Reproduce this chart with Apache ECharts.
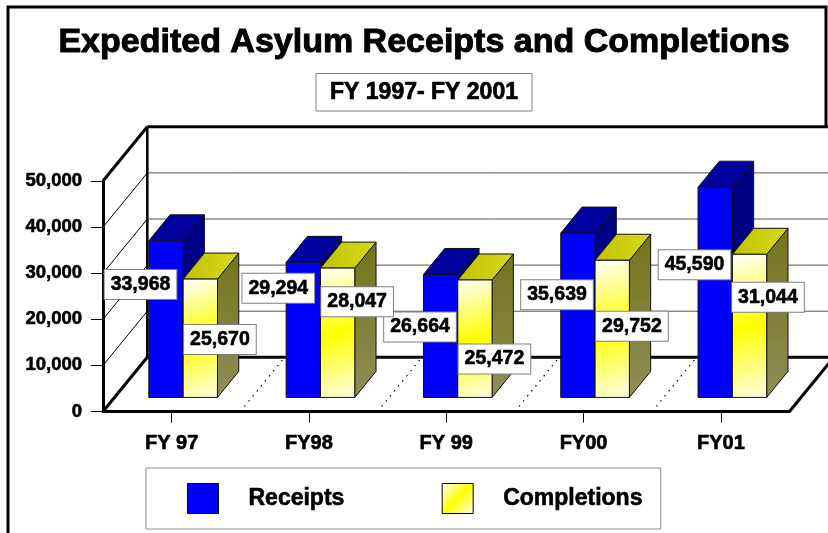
<!DOCTYPE html>
<html>
<head>
<meta charset="utf-8">
<title>Expedited Asylum Receipts and Completions</title>
<script src="https://cdn.jsdelivr.net/npm/echarts@6/dist/echarts.min.js"></script>
<style>
  html, body { margin: 0; padding: 0; background: #fff; }
  #chart { width: 828px; height: 533px; }
</style>
</head>
<body>
<div id="chart"></div>
<script>
// Fiscal years and yearly counts
const categories = ['FY 97', 'FY98', 'FY 99', 'FY00', 'FY01'];
const receipts = [33968, 29294, 26664, 35639, 45590];
const completions = [25670, 28047, 25472, 29752, 31044];
const yTicks = [0, 10000, 20000, 30000, 40000, 50000];

const FONT = '"Liberation Sans", Arial, Helvetica, sans-serif';
// a hairline outline makes the bold type a touch heavier
const INK = { textBorderColor: '#000', textBorderWidth: 0.6 };

// Oblique projection of the box: offset from the front plane to the back wall (px)
const DEPTH = [44.3, -54.2];
// Bars sit between these fractions of the floor depth
const BAR_NEAR = 0.26;
const BAR_FAR = 0.74;
// Each bar takes this share of a category band
const BAR_SHARE = 0.25;

// Hand placement of the value boxes, relative to the top-centre of each bar front
const receiptLabelDx = [-25.5, -25, -20.6, -20.9, -20.7];
const receiptLabelDy = [43.7, 25.9, 52.5, 61.6, 77.5];
const completionLabelDx = [19.6, 19.5, 19.5, 19.7, 18.4];
const completionLabelDy = [60.4, 33.6, 79, 66.1, 43];

const fmt = v => v.toLocaleString('en-US');

const blueFaces = {
  front: '#0000ff',
  top: '#00009e',
  side: '#000084'
};
const yellowFaces = {
  front: {
    type: 'linear', x: 0, y: 0, x2: 1, y2: 1,
    colorStops: [
      { offset: 0, color: '#ffffff' },
      { offset: 0.5, color: '#ffff00' },
      { offset: 1, color: '#ffffe6' }
    ]
  },
  top: {
    type: 'linear', x: 0, y: 0, x2: 1, y2: 0,
    colorStops: [
      { offset: 0, color: '#c2c200' },
      { offset: 1, color: '#d8d820' }
    ]
  },
  side: {
    type: 'linear', x: 0, y: 0, x2: 0, y2: 1,
    colorStops: [
      { offset: 0, color: '#74741c' },
      { offset: 1, color: '#8e8e58' }
    ]
  }
};

function barRenderer(side, faces, labelDx, labelDy, order) {
  return function (params, api) {
    const i = api.value(0);
    const v = api.value(1);
    const base = api.coord([i, 0]);
    const top = api.coord([i, v]);
    const band = api.size([1, 0])[0];
    const w = band * BAR_SHARE;
    const ox = DEPTH[0] * BAR_NEAR, oy = DEPTH[1] * BAR_NEAR;
    const dx = DEPTH[0] * (BAR_FAR - BAR_NEAR), dy = DEPTH[1] * (BAR_FAR - BAR_NEAR);
    const x0 = base[0] + ox + (side === 0 ? -w : 0);
    const x1 = x0 + w;
    const yb = base[1] + oy;
    const yt = top[1] + oy;
    const edge = { stroke: '#111', lineWidth: 1 };
    return {
      type: 'group',
      children: [
        {
          type: 'polygon', z2: order,
          shape: { points: [[x1, yt], [x1 + dx, yt + dy], [x1 + dx, yb + dy], [x1, yb]] },
          style: Object.assign({ fill: faces.side }, edge)
        },
        {
          type: 'polygon', z2: order,
          shape: { points: [[x0, yt], [x0 + dx, yt + dy], [x1 + dx, yt + dy], [x1, yt]] },
          style: Object.assign({ fill: faces.top }, edge)
        },
        {
          type: 'rect', z2: order,
          shape: { x: x0, y: yt, width: w, height: yb - yt },
          style: Object.assign({ fill: faces.front }, edge)
        },
        {
          type: 'text', z2: 100,
          style: {
            text: fmt(v),
            x: x0 + w / 2 + labelDx[i],
            y: yt + labelDy[i],
            align: 'center',
            verticalAlign: 'middle',
            font: 'bold 19.5px ' + FONT,
            fill: '#000',
            stroke: '#000',
            lineWidth: 0.6,
            backgroundColor: '#fff',
            borderColor: '#808080',
            borderWidth: 1,
            padding: [5, 6, 4, 6]
          }
        }
      ]
    };
  };
}

// Walls and floor of the box, built from the axis scales
function frameRenderer(params, api) {
  const cs = params.coordSys;
  const L = cs.x, R = cs.x + cs.width;
  const band = api.size([1, 0])[0];
  const [Dx, Dy] = DEPTH;
  const yOf = v => api.coord([0, v])[1];
  const yMin = yTicks[0], yMax = yTicks[yTicks.length - 1];
  const y0 = yOf(yMin), yTop = yOf(yMax);
  const kids = [];
  const line = (x1, y1, x2, y2, style) => kids.push({
    type: 'line', shape: { x1, y1, x2, y2 }, style: Object.assign({ stroke: '#000' }, style)
  });
  // back wall gridlines and side wall diagonals
  yTicks.forEach(v => {
    if (v === yMin || v === yMax) return;
    const y = yOf(v);
    line(L + Dx, y + Dy, R + Dx + 2, y + Dy, { stroke: '#555', lineWidth: 1 });
    line(L, y, L + Dx, y + Dy, { lineWidth: 1 });
  });
  // floor dividers between categories
  for (let k = 1; k < categories.length; k++) {
    const x = L + k * band;
    line(x, y0, x + Dx, y0 + Dy, { lineWidth: 1.2, lineDash: [1.5, 5] });
  }
  // heavy outline of the box
  const heavy = { lineWidth: 3 };
  line(L + Dx, yTop + Dy, R + Dx + 2, yTop + Dy, heavy);
  line(L + Dx, y0 + Dy, R + Dx + 2, y0 + Dy, heavy);
  line(L + Dx, yTop + Dy, L + Dx, y0 + Dy, { lineWidth: 2.5 });
  line(L, yTop, L + Dx, yTop + Dy, heavy);
  line(L, y0, L + Dx, y0 + Dy, heavy);
  line(R, y0, R + Dx, y0 + Dy, heavy);
  return { type: 'group', children: kids };
}

const chart = echarts.init(document.getElementById('chart'), null, { renderer: 'canvas' });

chart.setOption({
  backgroundColor: '#fff',
  animation: false,
  graphic: [
    {
      type: 'polyline', z: 0,
      shape: { points: [[8, 545], [8, 7], [826, 7], [826, 126]] },
      style: { stroke: '#000', lineWidth: 3, fill: null }
    },
    {
      type: 'text', z: 10,
      style: {
        text: 'Expedited Asylum Receipts and Completions',
        x: 424, y: 43, align: 'center', verticalAlign: 'middle',
        font: 'bold 34px ' + FONT, fill: '#000', stroke: '#000', lineWidth: 1
      }
    },
    {
      type: 'rect', z: 10,
      shape: { x: 316, y: 73.5, width: 216, height: 37.5 },
      style: { fill: '#fff', stroke: '#808080', lineWidth: 1 }
    },
    {
      type: 'text', z: 11,
      style: {
        text: 'FY 1997- FY 2001',
        x: 424, y: 92.5, align: 'center', verticalAlign: 'middle',
        font: 'bold 23px ' + FONT, fill: '#000', stroke: '#000', lineWidth: 0.7
      }
    }
  ],
  legend: {
    left: 146,
    top: 468,
    orient: 'horizontal',
    padding: [15, 18, 15, 41],
    itemWidth: 31,
    itemHeight: 30,
    itemGap: 97,
    backgroundColor: '#fff',
    borderColor: '#8a8a8a',
    borderWidth: 1,
    textStyle: Object.assign({
      fontFamily: FONT, fontWeight: 'bold', fontSize: 23, color: '#000',
      padding: [0, 0, 0, 25]
    }, INK),
    itemStyle: { borderColor: '#000', borderWidth: 1 },
    data: [
      { name: 'Receipts', icon: 'rect' },
      { name: 'Completions', icon: 'rect' }
    ]
  },
  grid: { left: 103, right: 38.5, top: 181, bottom: 121.5 },
  xAxis: {
    type: 'category',
    data: categories,
    axisLine: { show: true, lineStyle: { color: '#000', width: 3 } },
    axisTick: { show: true, alignWithLabel: true, length: 11, lineStyle: { color: '#000', width: 1 } },
    axisLabel: Object.assign({ margin: 22, color: '#000', fontFamily: FONT, fontWeight: 'bold', fontSize: 20 }, INK),
    splitLine: { show: false }
  },
  yAxis: {
    type: 'value',
    min: yTicks[0],
    max: yTicks[yTicks.length - 1],
    interval: yTicks[1] - yTicks[0],
    axisLine: { show: true, lineStyle: { color: '#000', width: 3 } },
    axisTick: { show: true, length: 12, lineStyle: { color: '#000', width: 1 } },
    axisLabel: Object.assign({
      margin: 21, color: '#000', fontFamily: FONT, fontWeight: 'bold', fontSize: 18.5,
      formatter: v => fmt(v)
    }, INK),
    splitLine: { show: false }
  },
  series: [
    {
      type: 'custom',
      name: 'frame',
      z: 1,
      silent: true,
      renderItem: frameRenderer,
      data: [[0, 0]]
    },
    {
      type: 'custom',
      name: 'Receipts',
      z: 2,
      itemStyle: { color: blueFaces.front },
      renderItem: barRenderer(0, blueFaces, receiptLabelDx, receiptLabelDy, 1),
      encode: { x: 0, y: 1 },
      data: receipts.map((v, i) => [i, v])
    },
    {
      type: 'custom',
      name: 'Completions',
      z: 2,
      itemStyle: { color: yellowFaces.front },
      renderItem: barRenderer(1, yellowFaces, completionLabelDx, completionLabelDy, 2),
      encode: { x: 0, y: 1 },
      data: completions.map((v, i) => [i, v])
    }
  ]
});
</script>
</body>
</html>
